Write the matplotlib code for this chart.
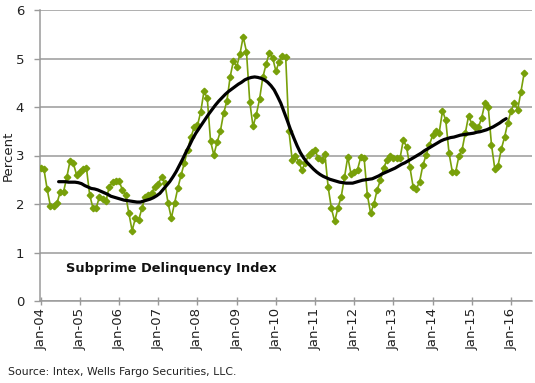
import numpy as np
import matplotlib
matplotlib.use("Agg")
import matplotlib.pyplot as plt

# Monthly subprime delinquency index (percent), Jan-2004 .. May-2016
delinquency = [
    2.75, 2.72, 2.30, 1.95, 1.96, 2.02, 2.25, 2.25, 2.55, 2.89, 2.84, 2.60,   # 2004
    2.65, 2.72, 2.75, 2.19, 1.92, 1.92, 2.15, 2.10, 2.06, 2.36, 2.45, 2.47,   # 2005
    2.48, 2.29, 2.19, 1.81, 1.45, 1.71, 1.67, 1.91, 2.15, 2.19, 2.23, 2.36,   # 2006
    2.41, 2.56, 2.43, 2.02, 1.71, 2.02, 2.33, 2.60, 2.85, 3.12, 3.38, 3.58,   # 2007
    3.62, 3.90, 4.33, 4.18, 3.30, 3.01, 3.27, 3.50, 3.87, 4.12, 4.62, 4.95,   # 2008
    4.83, 5.09, 5.45, 5.14, 4.11, 3.60, 3.84, 4.16, 4.61, 4.88, 5.12, 5.02,   # 2009
    4.74, 4.93, 5.05, 5.04, 3.50, 2.91, 2.98, 2.87, 2.70, 2.85, 3.01, 3.08,   # 2010
    3.11, 2.94, 2.91, 3.03, 2.35, 1.91, 1.64, 1.92, 2.15, 2.55, 2.97, 2.62,   # 2011
    2.65, 2.71, 2.97, 2.95, 2.19, 1.81, 2.00, 2.29, 2.49, 2.74, 2.91, 2.98,   # 2012
    2.94, 2.94, 2.94, 3.32, 3.18, 2.77, 2.36, 2.31, 2.46, 2.80, 3.01, 3.22,   # 2013
    3.42, 3.51, 3.47, 3.92, 3.73, 3.05, 2.67, 2.65, 2.98, 3.12, 3.47, 3.82,   # 2014
    3.65, 3.59, 3.58, 3.78, 4.08, 4.00, 3.22, 2.73, 2.79, 3.13, 3.38, 3.68,   # 2015
    3.92, 4.08, 3.94, 4.31, 4.70,                                             # 2016
]

# 12-month (centred) moving average; first value sits mid-2004
moving_avg = [
    2.46, 2.46, 2.46, 2.45, 2.45, 2.45, 2.44, 2.42, 2.38, 2.35, 2.32, 2.31,
    2.29, 2.26, 2.23, 2.20, 2.16, 2.14, 2.12, 2.10, 2.08, 2.07, 2.06, 2.05,
    2.04, 2.04, 2.06, 2.08, 2.10, 2.13, 2.17, 2.22, 2.30, 2.38, 2.46, 2.56,
    2.67, 2.80, 2.93, 3.07, 3.20, 3.34, 3.46, 3.56, 3.66, 3.76, 3.86, 3.95,
    4.04, 4.12, 4.19, 4.26, 4.32, 4.37, 4.42, 4.47, 4.51, 4.56, 4.59, 4.61,
    4.62, 4.61, 4.59, 4.56, 4.51, 4.44, 4.35, 4.22, 4.08, 3.90, 3.72, 3.53,
    3.36, 3.20, 3.06, 2.95, 2.86, 2.79, 2.72, 2.66, 2.61, 2.57, 2.54, 2.51,
    2.49, 2.47, 2.45, 2.44, 2.43, 2.43, 2.43, 2.45, 2.47, 2.49, 2.50, 2.51,
    2.52, 2.55, 2.58, 2.62, 2.65, 2.68, 2.71, 2.74, 2.78, 2.82, 2.85, 2.89,
    2.93, 2.97, 3.01, 3.05, 3.10, 3.14, 3.18, 3.22, 3.26, 3.30, 3.33, 3.35,
    3.37, 3.38, 3.40, 3.42, 3.43, 3.44, 3.45, 3.46, 3.48, 3.49, 3.51, 3.53,
    3.56, 3.59, 3.63, 3.67, 3.72, 3.76,
]
ma_start_month = 5.5

tick_labels = ["Jan-04", "Jan-05", "Jan-06", "Jan-07", "Jan-08", "Jan-09", "Jan-10",
               "Jan-11", "Jan-12", "Jan-13", "Jan-14", "Jan-15", "Jan-16"]
y_ticks = [0, 1, 2, 3, 4, 5, 6]

GREEN = "#78A00A"
GRID = "#9A9A9A"
TEXT = "#222222"

plt.rcParams["font.family"] = ["DejaVu Sans"]

fig = plt.figure(figsize=(5.35, 3.83), dpi=100)
ax = fig.add_axes([40 / 535, 1 - 301 / 383, 492 / 535, 291 / 383])

months = np.arange(len(delinquency))
ma_x = np.arange(len(moving_avg)) + ma_start_month

ax.plot(months, delinquency, color=GREEN, lw=1.2, marker="D", ms=3.3,
        mfc=GREEN, mec=GREEN, zorder=3)
ax.plot(ma_x, moving_avg, color="black", lw=2.3, zorder=4, solid_capstyle="round")

ax.set_ylim(0, 6)
ax.set_yticks(y_ticks)
ax.set_xlim(-0.2, 150.4)
ax.set_xticks(np.arange(len(tick_labels)) * 12)
ax.set_xticklabels(tick_labels, rotation=90, fontsize=9.5, color=TEXT)
ax.tick_params(axis="y", labelsize=9.5, colors=TEXT, length=4, width=1, color=GRID, pad=7.5)
ax.tick_params(axis="x", direction="inout", length=6, width=1, color=GRID, pad=2)

ax.grid(axis="y", color=GRID, lw=1.1)
ax.set_axisbelow(True)
for side in ["top", "right"]:
    ax.spines[side].set_visible(False)
for side in ["left", "bottom"]:
    ax.spines[side].set_color(GRID)
    ax.spines[side].set_linewidth(1.1)

ax.set_ylabel("Percent", fontsize=9.5, color=TEXT, va="center")
ax.yaxis.set_label_coords(-32 / 492, 0.5)

ax.text(0.052, 0.11, "Subprime Delinquency Index", transform=ax.transAxes,
        fontsize=9.4, fontweight="bold", color="#111111", va="center", ha="left")

fig.text(8 / 535, 1 - 372 / 383, "Source: Intex, Wells Fargo Securities, LLC.",
         fontsize=7.8, color=TEXT, va="center", ha="left")

fig.savefig("out.png", dpi=100)
